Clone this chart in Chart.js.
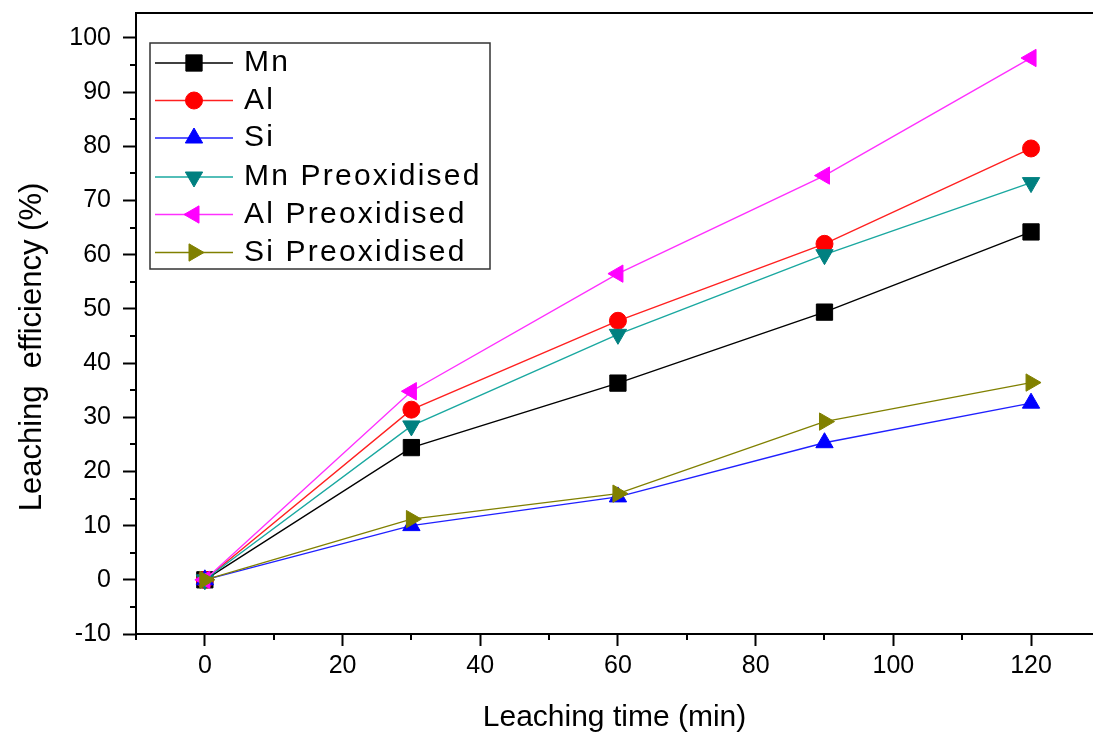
<!DOCTYPE html>
<html>
<head>
<meta charset="utf-8">
<script src="https://cdn.jsdelivr.net/npm/chart.js"></script>
<style>
  html, body { margin: 0; padding: 0; background: #fff; }
  #wrap { width: 1093px; height: 736px; }
</style>
</head>
<body>
<div id="wrap"><canvas id="leachChart" width="1093" height="736"></canvas></div>
<script>
// leaching time (min)
const times = [0, 30, 60, 90, 120];

// leaching efficiency (%)
const mn     = [0, 24.4, 36.3, 49.4, 64.2];
const al     = [0, 31.4, 47.8, 62.0, 79.6];
const si     = [0, 10.0, 15.3, 25.3, 32.6];
const mnPre  = [0, 28.4, 45.3, 60.0, 73.3];
const alPre  = [0, 34.8, 56.5, 74.6, 96.3];
const siPre  = [0, 11.2, 15.9, 29.2, 36.4];

const seriesNames = ['Mn', 'Al', 'Si', 'Mn Preoxidised', 'Al Preoxidised', 'Si Preoxidised'];

const xTicks = [0, 20, 40, 60, 80, 100, 120];
const yTicks = [-10, 0, 10, 20, 30, 40, 50, 60, 70, 80, 90, 100];
const xMinor = [-10, 10, 30, 50, 70, 90, 110];
const yMinor = [-5, 5, 15, 25, 35, 45, 55, 65, 75, 85, 95];

const FONT = "'Liberation Sans', Arial, sans-serif";

function pts(vals) {
    return times.map((t, i) => ({ x: t, y: vals[i] }));
}

const styles = [
    { line: '#000000', fill: '#000000', shape: 'rect',     radius: 11.5, rot: 0 },
    { line: '#ff2020', fill: '#ff0000', shape: 'circle',   radius: 8.5,  rot: 0 },
    { line: '#2020ff', fill: '#0000ff', shape: 'triangle', radius: 10,   rot: 0 },
    { line: '#1aa8a0', fill: '#008080', shape: 'triangle', radius: 10,   rot: 180 },
    { line: '#ff30ff', fill: '#ff00ff', shape: 'triangle', radius: 10,   rot: -90 },
    { line: '#808000', fill: '#808000', shape: 'triangle', radius: 10,   rot: 90 }
];

const allSeries = [mn, al, si, mnPre, alPre, siPre];

const datasets = allSeries.map((vals, i) => ({
    label: seriesNames[i],
    data: pts(vals),
    borderColor: styles[i].line,
    borderWidth: 1.4,
    backgroundColor: styles[i].fill,
    pointBackgroundColor: styles[i].fill,
    pointBorderColor: styles[i].fill,
    pointBorderWidth: 1,
    pointStyle: styles[i].shape,
    pointRadius: styles[i].radius,
    pointRotation: styles[i].rot,
    tension: 0,
    fill: false,
    clip: false,
    order: allSeries.length - i
}));

const extras = {
    id: 'extras',
    afterDraw(chart) {
        const ctx = chart.ctx;
        const xs = chart.scales.x;
        const ys = chart.scales.y;
        const area = chart.chartArea;
        ctx.save();

        // top frame line
        ctx.strokeStyle = '#000';
        ctx.lineWidth = 2;
        ctx.beginPath();
        ctx.moveTo(area.left - 1, area.top);
        ctx.lineTo(chart.width, area.top);
        ctx.stroke();

        // minor ticks
        ctx.beginPath();
        xMinor.forEach(v => {
            const px = Math.round(xs.getPixelForValue(v));
            ctx.moveTo(px, area.bottom);
            ctx.lineTo(px, area.bottom + 6);
        });
        yMinor.forEach(v => {
            const py = Math.round(ys.getPixelForValue(v));
            ctx.moveTo(area.left, py);
            ctx.lineTo(area.left - 6, py);
        });
        ctx.stroke();

        // y axis title
        ctx.save();
        ctx.translate(32, 347);
        ctx.rotate(-Math.PI / 2);
        ctx.fillStyle = '#000';
        ctx.font = '31px ' + FONT;
        ctx.textAlign = 'center';
        ctx.textBaseline = 'middle';
        ctx.fillText('Leaching  efficiency (%)', 0, 0);
        ctx.restore();

        // legend box
        const box = { l: 150, t: 43, r: 490, b: 269 };
        ctx.strokeStyle = '#333';
        ctx.lineWidth = 1.5;
        ctx.strokeRect(box.l, box.t, box.r - box.l, box.b - box.t);

        const rowY = [63, 100.5, 138, 177, 214.5, 252.5];
        ctx.font = '30px ' + FONT;
        ctx.textAlign = 'left';
        ctx.textBaseline = 'middle';
        if ('letterSpacing' in ctx) ctx.letterSpacing = '2.2px';
        chart.data.datasets.forEach((ds, i) => {
            const y = rowY[i];
            ctx.strokeStyle = ds.borderColor;
            ctx.lineWidth = 1.4;
            ctx.beginPath();
            ctx.moveTo(155, y);
            ctx.lineTo(233, y);
            ctx.stroke();
            ctx.fillStyle = ds.pointBackgroundColor;
            ctx.strokeStyle = ds.pointBorderColor;
            ctx.lineWidth = 1;
            Chart.helpers.drawPoint(ctx, {
                pointStyle: ds.pointStyle,
                radius: ds.pointRadius,
                rotation: ds.pointRotation,
                borderWidth: 1
            }, 194, y);
            ctx.fillStyle = '#000';
            ctx.fillText(ds.label, 244, y);
        });
        ctx.restore();
    }
};

const ctx = document.getElementById('leachChart').getContext('2d');
new Chart(ctx, {
    type: 'line',
    data: { datasets: datasets },
    options: {
        responsive: false,
        animation: false,
        events: [],
        layout: { autoPadding: false, padding: { top: 13, left: 0, right: 0, bottom: 0 } },
        plugins: {
            legend: { display: false },
            tooltip: { enabled: false },
            title: { display: false }
        },
        scales: {
            x: {
                type: 'linear',
                min: -10,
                max: 129,
                afterBuildTicks: s => { s.ticks = xTicks.map(v => ({ value: v })); },
                afterFit: s => {
                    s.height = 102;
                    s.paddingLeft = 0;
                    s.paddingRight = 0;
                },
                grid: {
                    drawOnChartArea: false,
                    drawTicks: true,
                    tickLength: 12,
                    tickWidth: 2,
                    tickColor: '#000'
                },
                border: { color: '#000', width: 2 },
                ticks: {
                    font: { family: FONT, size: 25 },
                    color: '#000',
                    padding: 5,
                    maxRotation: 0,
                    autoSkip: false
                },
                title: {
                    display: true,
                    text: 'Leaching time (min)',
                    font: { family: FONT, size: 30 },
                    color: '#000',
                    padding: { top: 0, bottom: 0 }
                }
            },
            y: {
                type: 'linear',
                min: -10,
                max: 104.6,
                afterBuildTicks: s => { s.ticks = yTicks.map(v => ({ value: v })); },
                afterFit: s => {
                    s.width = 136;
                    s.paddingTop = 0;
                    s.paddingBottom = 0;
                },
                grid: {
                    drawOnChartArea: false,
                    drawTicks: true,
                    tickLength: 13,
                    tickWidth: 2,
                    tickColor: '#000'
                },
                border: { color: '#000', width: 2 },
                ticks: {
                    font: { family: FONT, size: 25 },
                    color: '#000',
                    padding: 12,
                    autoSkip: false
                }
            }
        }
    },
    plugins: [extras]
});
</script>
</body>
</html>
